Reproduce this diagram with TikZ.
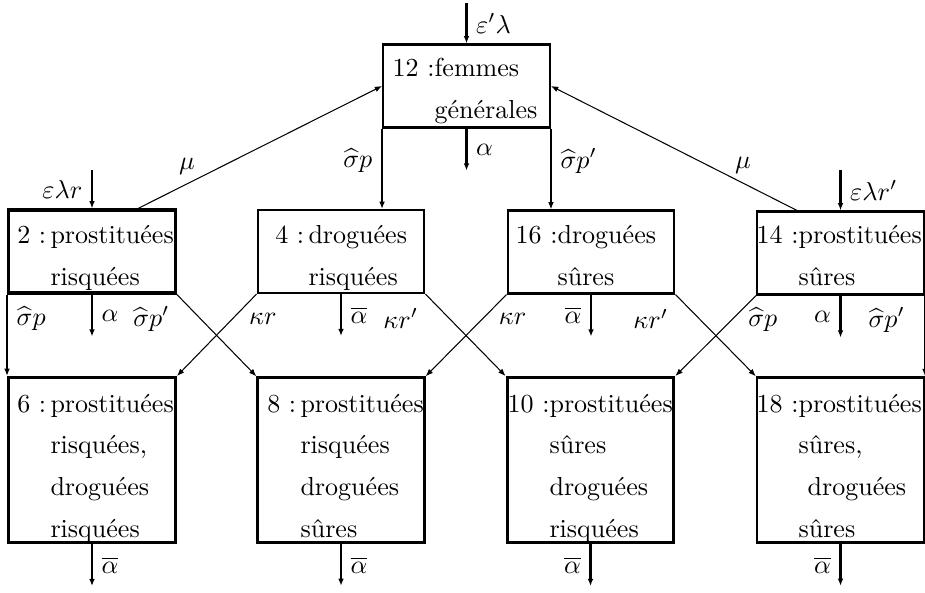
\documentclass[tikz,border=0pt]{standalone}
\usepackage{amsmath}
\usetikzlibrary{arrows.meta}

\begin{document}
\begin{tikzpicture}[x=0.0135cm, y=-0.0135cm, >={Latex[length=2.8pt, width=2.2pt]},
    box/.style={draw, thick, minimum width=64.1pt, minimum height=31.9pt, inner sep=0pt},
    bigbox/.style={box, minimum height=63.4pt},
    txt/.style={anchor=base west, align=left, inner sep=0pt, font=\fontsize{10pt}{16pt}\selectfont}]
    \useasboundingbox (0,0) rectangle (925,592);

    % Compartments
    \node[box] (n12) at (466.5,86) {};
    \node[box, very thick] (n2) at (92,251.5) {};
    \node[box] (n4) at (341,251.5) {};
    \node[box] (n16) at (591,252) {};
    \node[box] (n14) at (840.5,253) {};
    \node[bigbox, very thick] (n6) at (92,460) {};
    \node[bigbox, line width=1pt] (n8) at (341,460) {};
    \node[bigbox, very thick] (n10) at (590.5,460) {};
    \node[bigbox, line width=1pt] (n18) at (840.5,460) {};

    % Compartment names (base = last line)
    \node[txt] (t12) at (434,118) {\llap{12 :}femmes\\générales};
    \node[txt] (t2) at (50,285) {\llap{2 :\,}prostituées\\risquées};
    \node[txt] (t4) at (308,285) {\llap{4 :\,}droguées\\risquées};
    \node[txt] (t16) at (557,285) {\llap{16 :}droguées\\sûres};
    \node[txt] (t14) at (798,285) {\llap{14 :}prostituées\\sûres};
    \node[txt] (t6) at (50,537) {\llap{6 :\,}prostituées\\risquées,\\droguées\\risquées};
    \node[txt] (t8) at (300,537) {\llap{8 :\,}prostituées\\risquées\\droguées\\sûres};
    \node[txt] (t10) at (549,537) {\llap{10 :}prostituées\\sûres\\droguées\\risquées};
    \node[txt] (t18) at (798,537) {\llap{18 :}prostituées\\sûres,\\\hspace*{3.5pt}droguées\\sûres};

    % Recruitment
    \coordinate (in12) at (466.5,3);
    \coordinate (in2) at (92,170);
    \coordinate (in14) at (840.5,170);
    \draw[->, thick] (in12) -- (n12.north) node[midway, right] {$\varepsilon'\lambda$};
    \draw[->, thick] (in2) -- (n2.north) node[midway, left] {$\varepsilon\lambda r$};
    \draw[->, thick] (in14) -- (n14.north) node[midway, right] {$\varepsilon\lambda r'$};

    % Exits
    \foreach \n/\side/\lab in {n12/right/\alpha, n2/right/\alpha, n4/right/\overline{\alpha},
        n16/left/\overline{\alpha}, n14/left/\alpha, n6/right/\overline{\alpha},
        n8/right/\overline{\alpha}, n10/left/\overline{\alpha}, n18/left/\overline{\alpha}} {
        \path (\n.south) ++(0,42) coordinate (\n-out);
        \draw[->, thick] (\n.south) -- (\n-out) node[midway, \side] {$\lab$};
    }

    % From general women
    \draw[->, thick] (n12.south west) -- (n12.south west |- n4.north) node[pos=0.4, left] {$\widehat{\sigma}p$};
    \draw[->, thick] (n12.south east) -- (n12.south east |- n16.north) node[pos=0.4, right] {$\widehat{\sigma}p'$};

    % Back to general women
    \draw[->] ([xshift=17.7pt]n2.north) -- (n12.west) node[pos=0.2, above] {$\mu$};
    \draw[->] ([xshift=-16.7pt]n14.north) -- (n12.east) node[pos=0.22, above] {$\mu$};

    % Towards the mixed groups
    \draw[->, thick] (n2.south west) -- (n2.south west |- n6.north) node[pos=0.3, right] {$\widehat{\sigma}p$};
    \draw[->] (n2.south east) -- (n8.north west) node[pos=0.3, left=8.5pt] {$\widehat{\sigma}p'$};
    \draw[->] (n4.south west) -- (n6.north east) node[pos=0.3, right=2.8pt] {$\kappa r$};
    \draw[->] (n4.south east) -- (n10.north west) node[pos=0.3, left=8.5pt] {$\kappa r'$};
    \draw[->] (n16.south west) -- (n8.north east) node[pos=0.3, right=2.8pt] {$\kappa r$};
    \draw[->] (n16.south east) -- (n18.north west) node[pos=0.3, left=8.5pt] {$\kappa r'$};
    \draw[->] (n14.south west) -- (n10.north east) node[pos=0.3, right=2.8pt] {$\widehat{\sigma}p$};
    \draw[->, thick] (n14.south east) -- (n14.south east |- n18.north) node[pos=0.3, left=4pt] {$\widehat{\sigma}p'$};
\end{tikzpicture}
\end{document}
